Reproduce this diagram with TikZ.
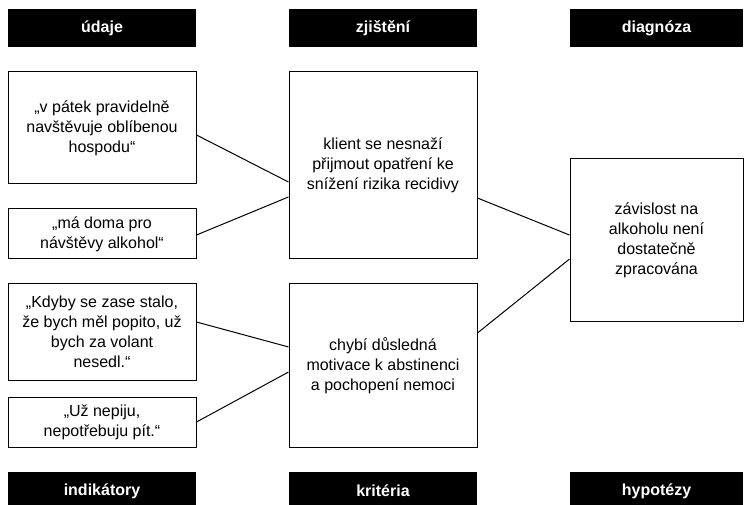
\documentclass[tikz,border=0pt]{standalone}
\usepackage{fontspec}
\setmainfont{Liberation Sans}

\begin{document}
\begin{tikzpicture}[x=0.75pt, y=-0.75pt, line width=0.75pt]
  \tikzset{HeadStyle/.style = {
  shape = rectangle,
  fill = black,
  text = white,
  font = \fontsize{12}{15}\selectfont\bfseries,
  inner sep = 0pt,
  minimum width = 141pt,
  minimum height = 28.5pt}}
  \tikzset{BoxStyle/.style = {
  shape = rectangle,
  draw = black,
  fill = white,
  align = center,
  font = \fontsize{12}{15}\selectfont,
  inner sep = 0pt,
  minimum width = 141pt}}
  \clip (0,0) rectangle (752,505);
  \node[HeadStyle] (hd1) at (102,28) {údaje};
  \node[HeadStyle] (hd2) at (383,28) {zjištění};
  \node[HeadStyle, minimum width=129.75pt] (hd3) at (656.5,28) {diagnóza};
  \node[HeadStyle] (ft1) at (102,491) {indikátory};
  \node[HeadStyle] (ft2) at (383,491) {kritéria};
  \node[HeadStyle, minimum width=129.75pt] (ft3) at (656.5,491) {hypotézy};
  \node[BoxStyle, minimum height=84pt] (d1) at (102,128)
    {„v pátek pravidelně\\navštěvuje oblíbenou\\hospodu“};
  \node[BoxStyle, minimum height=37.5pt] (d2) at (102,234)
    {„má doma pro\\návštěvy alkohol“};
  \node[BoxStyle, minimum height=72pt] (d3) at (102,332)
    {„Kdyby se zase stalo,\\že bych měl popito, už\\bych za volant\\nesedl.“};
  \node[BoxStyle, minimum height=37.5pt] (d4) at (102,422)
    {„Už nepiju,\\nepotřebuju pít.“};
  \node[BoxStyle, minimum height=140.25pt] (z1) at (383,165.5)
    {klient se nesnaží\\přijmout opatření ke\\snížení rizika recidivy};
  \node[BoxStyle, minimum height=122.25pt] (z2) at (383,365.5)
    {chybí důsledná\\motivace k abstinenci\\a pochopení nemoci};
  \node[BoxStyle, minimum width=129.75pt, minimum height=122.25pt] (dg) at (656.5,240.5)
    {závislost na\\alkoholu není\\dostatečně\\zpracována};
  \draw ([yshift=-5.25pt]d1.east) -- ([yshift=-12.4pt]z1.west);
  \draw ([yshift=-0.75pt]d2.east) -- ([yshift=-23.6pt]z1.west);
  \draw ([yshift=7.5pt]d3.east) -- ([yshift=13.9pt]z2.west);
  \draw (d4.east) -- ([yshift=-4.9pt]z2.west);
  \draw ([yshift=-24.4pt]z1.east) -- ([yshift=4.1pt]dg.west);
  \draw ([yshift=24.4pt]z2.east) -- ([yshift=-13.9pt]dg.west);
\end{tikzpicture}
\end{document}
